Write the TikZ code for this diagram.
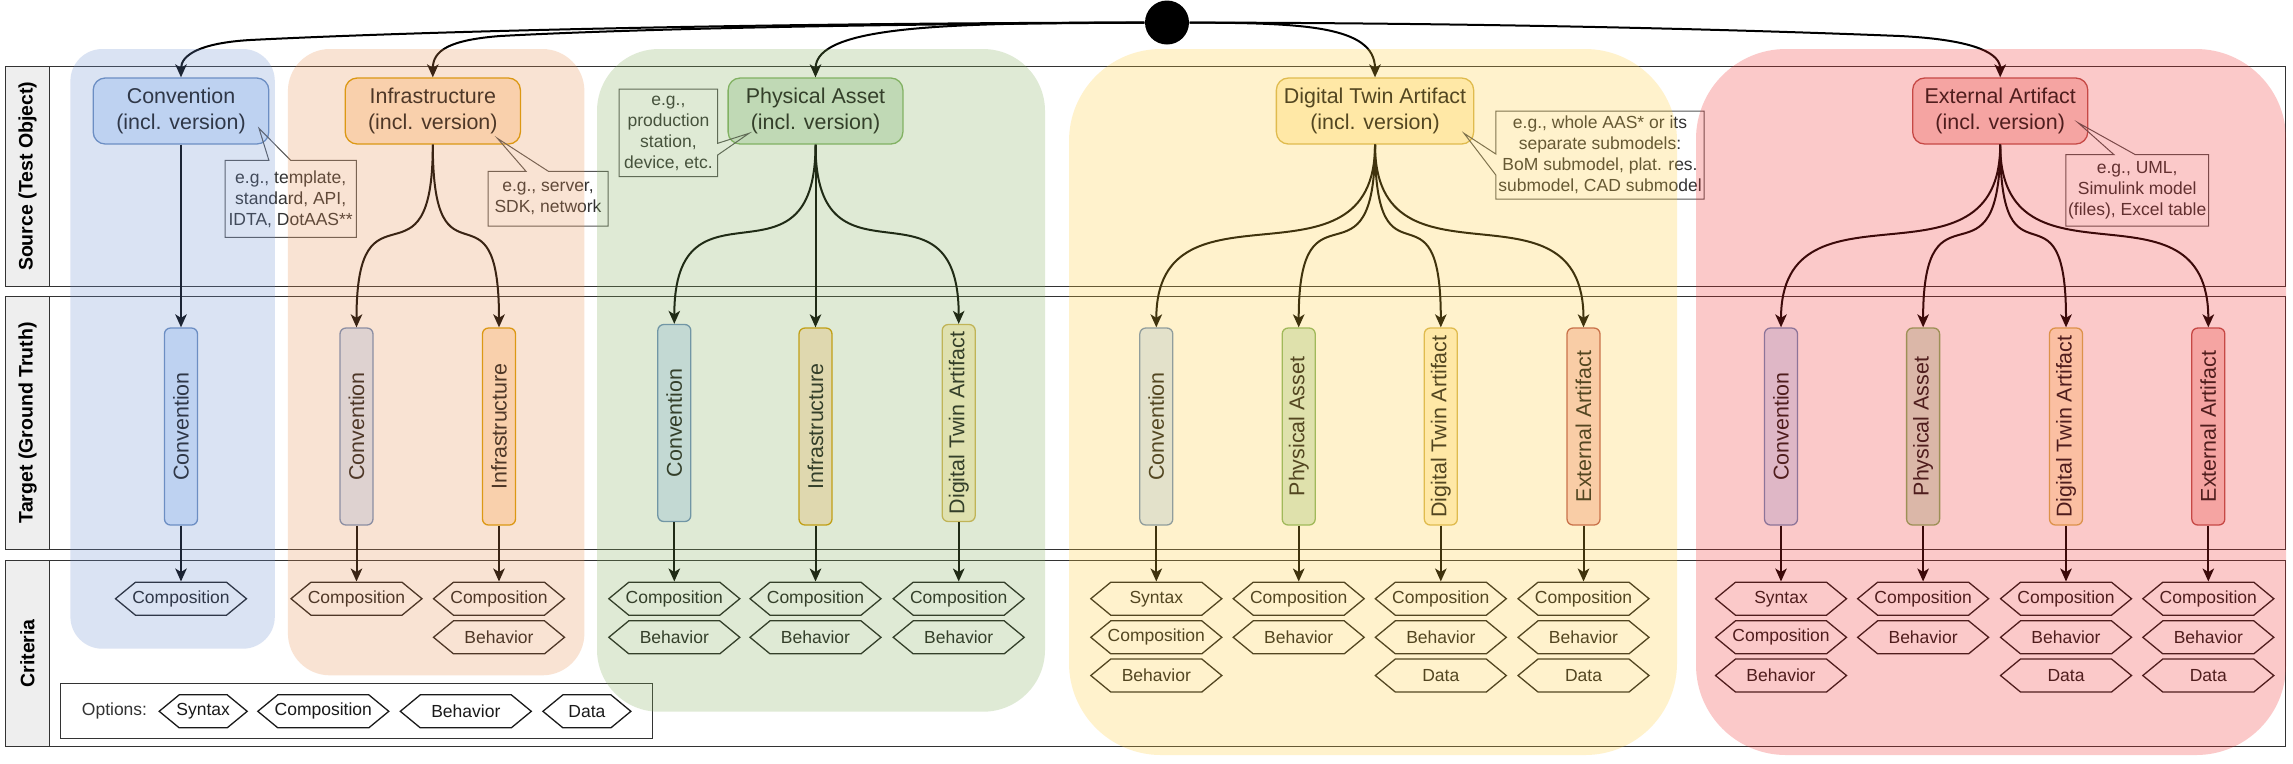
\documentclass[tikz,border=0pt]{standalone}
\usepackage{fontspec}
\usepackage{graphicx}
\setmainfont{Liberation Sans}
\usetikzlibrary{arrows.meta}
\definecolor{bluef}{HTML}{DAE8FC}\definecolor{blued}{HTML}{6C8EBF}
\definecolor{orangef}{HTML}{FFE6CC}\definecolor{oranged}{HTML}{D79B00}
\definecolor{greenf}{HTML}{D5E8D4}\definecolor{greend}{HTML}{82B366}
\definecolor{yellowf}{HTML}{FFF2CC}\definecolor{yellowd}{HTML}{D6B656}
\definecolor{redf}{HTML}{F8CECC}\definecolor{redd}{HTML}{B85450}
\definecolor{gblue}{RGB}{110,145,210}
\definecolor{gorange}{RGB}{235,145,80}
\definecolor{ggreen}{RGB}{130,175,90}
\definecolor{gyellow}{RGB}{255,205,55}
\definecolor{gred}{RGB}{240,40,40}
\definecolor{lanec}{HTML}{333333}
\definecolor{headf}{HTML}{EEEEEE}
\definecolor{calloutc}{HTML}{555555}
\definecolor{txt}{HTML}{1A1A1A}
\definecolor{softtxt}{HTML}{333333}

\tikzset{
  lane/.style={draw=lanec, fill=white, line width=0.1mm},
  lanehead/.style={draw=lanec, fill=headf, line width=0.1mm},
  headtext/.style={rotate=90, inner sep=0pt, text=black, font=\fontsize{5.55}{6.6}\selectfont\bfseries},
  srcbox/.style={draw, line width=0.13mm, rounded corners=1.2mm, minimum height=6.6mm, inner sep=0pt, align=center, text=txt, font=\fontsize{6.1}{7.4}\selectfont},
  tgtbox/.style={draw, line width=0.13mm, rounded corners=0.6mm, minimum width=3.3mm, minimum height=19.7mm, inner sep=0pt, text=txt, font=\fontsize{6.1}{7.4}\selectfont},
  bluebox/.style={fill=bluef, draw=blued},
  orangebox/.style={fill=orangef, draw=oranged},
  greenbox/.style={fill=greenf, draw=greend},
  yellowbox/.style={fill=yellowf, draw=yellowd},
  redbox/.style={fill=redf, draw=redd},
  hexlabel/.style={inner sep=0pt, minimum width=13.1mm, minimum height=3.3mm, text=txt, font=\fontsize{4.98}{6}\selectfont},
  hexline/.style={draw=txt, line width=0.13mm},
  arr/.style={draw=black, line width=0.2mm, -{Stealth[length=1.3mm, width=1.15mm, inset=0.35mm]}},
  callout/.style={draw=calloutc, line width=0.1mm},
  callouttext/.style={align=center, inner sep=0pt, text=softtxt, font=\fontsize{4.98}{5.98}\selectfont},
  optbox/.style={draw=lanec, line width=0.1mm},
  overlay/.style={fill opacity=0.25},
}

\newcommand\myhex[5]{%
  \node[hexlabel] (#1) at (#2,#3) {#5};
  \draw[hexline] (#1.center) ++(-#4,0) -- ++(20,-16.5) -- ++({2*#4-40},0) -- ++(20,16.5) -- ++(-20,16.5) -- ++({40-2*#4},0) -- cycle;}

\begin{document}
\begin{tikzpicture}[x=0.1mm,y=-0.1mm]
\fill[white] (0,0) rectangle (2293,763);
\useasboundingbox (0,0) rectangle (2293,763);

% swimlanes
\foreach \ya/\yb in {66.7/286, 296.7/549, 560.7/746} {
  \filldraw[lane] (5.5,\ya) rectangle (2285,\yb);
  \filldraw[lanehead] (5.5,\ya) rectangle (49.4,\yb);
}
\node[headtext] (hsrc) at (27.5,176.3) {Source (Test Object)};
\node[headtext] (htgt) at (27.5,422.8) {Target (Ground Truth)};
\node[headtext] (hcrit) at (27.5,653.4) {Criteria};

% options
\draw[optbox] (60.5,683.7) rectangle (652.5,738.7);
\node[callouttext] (optlabel) at (114.5,711.3) {Options:};
\myhex{o1}{203.2}{711.3}{44}{Syntax}
\myhex{o2}{323.3}{711.3}{65.5}{Composition}
\myhex{o3}{465.8}{711.3}{65.5}{Behavior}
\myhex{o4}{586.9}{711.3}{44}{Data}

% source boxes
\node[srcbox, bluebox, minimum width=17.56mm] (csrc) at (181,111) {Convention\\(incl. version)};
\node[srcbox, orangebox, minimum width=17.52mm] (isrc) at (432.8,111) {Infrastructure\\(incl. version)};
\node[srcbox, greenbox, minimum width=17.48mm] (psrc) at (815.5,111) {Physical Asset\\(incl. version)};
\node[srcbox, yellowbox, minimum width=19.73mm] (dsrc) at (1375,111) {Digital Twin Artifact\\(incl. version)};
\node[srcbox, redbox, minimum width=17.51mm] (esrc) at (2000.2,111) {External Artifact\\(incl. version)};

% target boxes
\node[tgtbox, bluebox] (t1) at (181,426.5) {\rotatebox{90}{Convention}};
\node[tgtbox, bluebox] (t2) at (356.5,426.5) {\rotatebox{90}{Convention}};
\node[tgtbox, orangebox] (t3) at (499,426.5) {\rotatebox{90}{Infrastructure}};
\node[tgtbox, bluebox] (t4) at (674.3,423) {\rotatebox{90}{Convention}};
\node[tgtbox, orangebox] (t5) at (815.5,426.5) {\rotatebox{90}{Infrastructure}};
\node[tgtbox, yellowbox] (t6) at (958.7,423) {\rotatebox{90}{Digital Twin Artifact}};
\node[tgtbox, bluebox] (t7) at (1156.3,426.5) {\rotatebox{90}{Convention}};
\node[tgtbox, greenbox] (t8) at (1298.7,426.5) {\rotatebox{90}{Physical Asset}};
\node[tgtbox, yellowbox] (t9) at (1440.8,426.5) {\rotatebox{90}{Digital Twin Artifact}};
\node[tgtbox, redbox] (t10) at (1583.5,426.5) {\rotatebox{90}{External Artifact}};
\node[tgtbox, bluebox] (t11) at (1781,426.5) {\rotatebox{90}{Convention}};
\node[tgtbox, greenbox] (t12) at (1923.1,426.5) {\rotatebox{90}{Physical Asset}};
\node[tgtbox, yellowbox] (t13) at (2066,426.5) {\rotatebox{90}{Digital Twin Artifact}};
\node[tgtbox, redbox] (t14) at (2208.3,426.5) {\rotatebox{90}{External Artifact}};

% callouts
\draw[callout] (225,160.3) -- (268.9,160.3) -- (259,128.3) -- (290.6,160.3) -- (356.3,160.3) -- (356.3,237.3) -- (225,237.3) -- cycle;
\node[callouttext] (n1) at (290.7,198.8) {e.g., template,\\standard, API,\\IDTA, DotAAS**};
\draw[callout] (488,171.3) -- (526,171.3) -- (497.4,138.3) -- (548.4,171.3) -- (608,171.3) -- (608,226) -- (488,226) -- cycle;
\node[callouttext] (n2) at (548,198.7) {e.g., server,\\SDK, network};
\draw[callout] (619,89) -- (717.7,89) -- (717.7,143.3) -- (749,133.3) -- (717.7,155) -- (717.7,176.7) -- (619,176.7) -- cycle;
\node[callouttext] (n3) at (668.4,133) {e.g.,\\production\\station,\\device, etc.};
\draw[callout] (1495.8,111) -- (1704,111) -- (1704,199) -- (1495.8,199) -- (1495.8,175) -- (1464,133.3) -- (1495.8,154) -- cycle;
\node[callouttext] (n4) at (1600,155) {e.g., whole AAS* or its\\separate submodels:\\BoM submodel, plat. res.\\submodel, CAD submodel};
\draw[callout] (2065.8,154.7) -- (2114,154.7) -- (2078,122.7) -- (2135.4,154.7) -- (2208.5,154.7) -- (2208.5,226) -- (2065.8,226) -- cycle;
\node[callouttext] (n5) at (2137.2,190.5) {e.g., UML,\\Simulink model\\(files), Excel table};

% criteria hexagons
\myhex{h1a}{181}{598.7}{65.5}{Composition}
\myhex{h2a}{356.5}{598.7}{65.5}{Composition}
\myhex{h3a}{499}{598.7}{65.5}{Composition}
\myhex{h3b}{499}{637.3}{65.5}{Behavior}
\myhex{h4a}{674.3}{598.7}{65.5}{Composition}
\myhex{h4b}{674.3}{637.3}{65.5}{Behavior}
\myhex{h5a}{815.5}{598.7}{65.5}{Composition}
\myhex{h5b}{815.5}{637.3}{65.5}{Behavior}
\myhex{h6a}{958.7}{598.7}{65.5}{Composition}
\myhex{h6b}{958.7}{637.3}{65.5}{Behavior}
\myhex{h7a}{1156.3}{598.7}{65.5}{Syntax}
\myhex{h7b}{1156.3}{637.3}{65.5}{Composition}
\myhex{h7c}{1156.3}{675.5}{65.5}{Behavior}
\myhex{h8a}{1298.7}{598.7}{65.5}{Composition}
\myhex{h8b}{1298.7}{637.3}{65.5}{Behavior}
\myhex{h9a}{1440.8}{598.7}{65.5}{Composition}
\myhex{h9b}{1440.8}{637.3}{65.5}{Behavior}
\myhex{h9c}{1440.8}{675.5}{65.5}{Data}
\myhex{h10a}{1583.5}{598.7}{65.5}{Composition}
\myhex{h10b}{1583.5}{637.3}{65.5}{Behavior}
\myhex{h10c}{1583.5}{675.5}{65.5}{Data}
\myhex{h11a}{1781}{598.7}{65.5}{Syntax}
\myhex{h11b}{1781}{637.3}{65.5}{Composition}
\myhex{h11c}{1781}{675.5}{65.5}{Behavior}
\myhex{h12a}{1923.1}{598.7}{65.5}{Composition}
\myhex{h12b}{1923.1}{637.3}{65.5}{Behavior}
\myhex{h13a}{2066}{598.7}{65.5}{Composition}
\myhex{h13b}{2066}{637.3}{65.5}{Behavior}
\myhex{h13c}{2066}{675.5}{65.5}{Data}
\myhex{h14a}{2208.3}{598.7}{65.5}{Composition}
\myhex{h14b}{2208.3}{637.3}{65.5}{Behavior}
\myhex{h14c}{2208.3}{675.5}{65.5}{Data}

% root
\node[circle, fill=black, minimum size=4.4mm, inner sep=0pt] (root) at (1167,22.5) {};

% root to sources
\draw[arr] (root) .. controls (800,23) and (450,30) .. (250,40) .. controls (200,43) and (181,55) .. (csrc.north);
\draw[arr] (root) .. controls (900,24) and (650,28) .. (500,36) .. controls (450,40) and (432.8,50) .. (isrc.north);
\draw[arr] (root) .. controls (950,23) and (815.5,25) .. (psrc.north);
\draw[arr] (root) .. controls (1300,23) and (1375,25) .. (dsrc.north);
\draw[arr] (root) .. controls (1500,23) and (1750,30) .. (1900,36) .. controls (1980,40) and (2000.2,55) .. (esrc.north);

% sources to targets
\draw[arr] (csrc.south) -- (t1.north);
\foreach \t in {t2,t3} \draw[arr] (isrc.south) .. controls +(0,156) and +(0,-158) .. (\t.north);
\foreach \t in {t4,t6} \draw[arr] (psrc.south) .. controls +(0,156) and +(0,-158) .. (\t.north);
\draw[arr] (psrc.south) -- (t5.north);
\foreach \t in {t7,t8,t9,t10} \draw[arr] (dsrc.south) .. controls +(0,156) and +(0,-158) .. (\t.north);
\foreach \t in {t11,t12,t13,t14} \draw[arr] (esrc.south) .. controls +(0,156) and +(0,-158) .. (\t.north);

% targets to criteria
\foreach \t/\h in {t1/h1a,t2/h2a,t3/h3a,t4/h4a,t5/h5a,t6/h6a,t7/h7a,t8/h8a,t9/h9a,t10/h10a,t11/h11a,t12/h12a,t13/h13a,t14/h14a}
  \draw[arr] (\t.south) -- (\h.north);

% group overlays
\fill[gblue, overlay, rounded corners=3.2mm] (70.4,49) rectangle (274.8,648.7);
\fill[gorange, overlay, rounded corners=4.2mm] (287.9,49) rectangle (584.4,675.3);
\fill[ggreen, overlay, rounded corners=6.2mm] (597,49) rectangle (1045,711.7);
\fill[gyellow, overlay, rounded corners=9.2mm] (1069,49) rectangle (1677,755);
\fill[gred, overlay, rounded corners=9mm] (1696,49) rectangle (2286,755);
\end{tikzpicture}
\end{document}
